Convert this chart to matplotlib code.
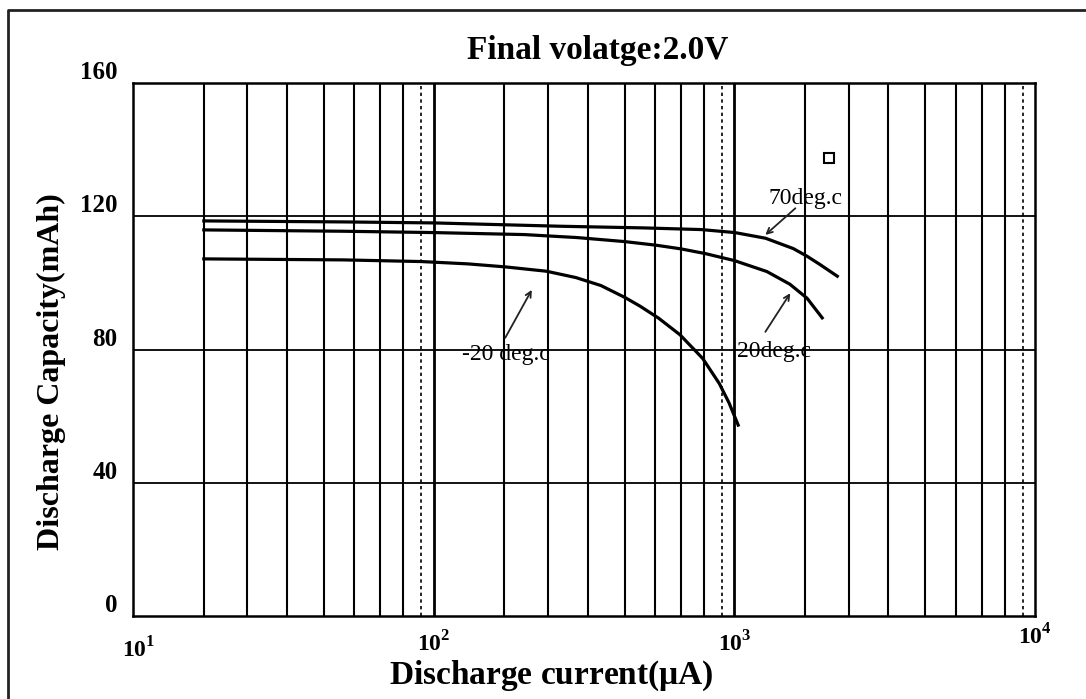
import numpy as np
import matplotlib.pyplot as plt
from matplotlib.lines import Line2D
from matplotlib.transforms import ScaledTranslation

plt.rcParams['font.family'] = ['Liberation Serif', 'DejaVu Serif']
plt.rcParams['mathtext.fontset'] = 'custom'
plt.rcParams['mathtext.rm'] = 'Liberation Serif:bold'
plt.rcParams['mathtext.bf'] = 'Liberation Serif:bold'

#### ========== Data ==========

# discharge current (uA) and capacity (mAh)
cur_70  = [17.2, 50, 100, 264, 500, 777, 1004, 1270, 1570, 1745, 1935, 2200]
cap_70  = [118.6, 118.3, 118.0, 117.0, 116.5, 116.0, 115.1, 113.4, 110.3, 108.0, 105.4, 102.0]

cur_20  = [17.2, 50, 100, 200, 300, 431, 550, 665, 800, 1000, 1283, 1530, 1745, 1960]
cap_20  = [115.9, 115.5, 115.1, 114.5, 113.6, 112.4, 111.3, 110.2, 108.8, 106.7, 103.4, 99.6, 95.4, 89.5]

cur_m20 = [17.2, 50, 91, 130, 173, 237, 297, 360, 433, 486, 560, 660, 785, 891, 960, 1030]
cap_m20 = [107.2, 106.9, 106.4, 105.7, 104.8, 103.5, 101.6, 99.2, 95.6, 93.0, 89.4, 84.4, 77.3, 69.8, 64.0, 57.3]

# vertical grid lines inside each decade (multiples of the decade start)
decades     = [10, 100, 1000]
grid_mult   = [1.72, 2.40, 3.25, 4.32, 5.44, 6.64, 7.92]
dashed_mult = 9.09

yticks = [0, 40, 80, 120, 160]
xticks = [10, 100, 1000, 10000]
xticklabels = [r'$10^{1}$', r'$10^{2}$', r'$10^{3}$', r'$10^{4}$']

#### ========== Plotting ==========

fig = plt.figure( figsize = ( 10.86, 6.99 ), dpi = 100 )
ax  = fig.add_axes( [ 133/1086, 83/699, 902/1086, 533/699 ] )

ax.set_xscale( 'log' )
ax.set_xlim( 10, 10000 )
ax.set_ylim( 0, 160 )

# grid
for d in decades:
    for m in grid_mult:
        ax.axvline( d * m, color = 'k', lw = 1.5, zorder = 1 )
    ax.axvline( d * dashed_mult, color = 'k', lw = 1.2, ls = ( 0, ( 2, 2 ) ), zorder = 1 )
for d in [100, 1000]:
    ax.axvline( d, color = 'k', lw = 2.0, zorder = 1 )
for y in [40, 80, 120]:
    ax.axhline( y, color = 'k', lw = 1.3, zorder = 1 )

# curves
ax.plot( cur_70,  cap_70,  'k-', lw = 2.3, zorder = 3, solid_joinstyle = 'round' )
ax.plot( cur_20,  cap_20,  'k-', lw = 2.3, zorder = 3, solid_joinstyle = 'round' )
ax.plot( cur_m20, cap_m20, 'k-', lw = 2.3, zorder = 3, solid_joinstyle = 'round' )

# annotations
kw = dict( zorder = 4,
           arrowprops = dict( arrowstyle = '->', color = '#222222', lw = 1.3,
                              shrinkA = 0, shrinkB = 0 ) )
ax.annotate( '', xy = ( 1268, 114.4 ), xytext = ( 1596, 122.4 ), **kw )
ax.annotate( '', xy = ( 1535, 96.9 ),  xytext = ( 1268, 85.3 ),  **kw )
ax.annotate( '', xy = ( 212, 97.9 ),   xytext = ( 173, 83.5 ),   **kw )
ax.text( 1722, 125.4, '70deg.c',   fontsize = 17, ha = 'center', va = 'center', zorder = 5 )
ax.text( 1358, 79.3,  '20deg.c',   fontsize = 17, ha = 'center', va = 'center', zorder = 5 )
ax.text( 174,  78.4,  '-20 deg.c', fontsize = 17, ha = 'center', va = 'center', zorder = 5 )

# little square
ax.plot( [2070], [137.5], marker = 's', ms = 7, mfc = 'white', mec = 'k', mew = 1.5, zorder = 5 )

for s in ax.spines.values():
    s.set_linewidth( 1.8 )

ax.set_yticks( yticks )
ax.set_yticklabels( [ str( y ) for y in yticks ], fontsize = 18, fontweight = 'bold' )
ax.set_xticks( xticks )
ax.set_xticklabels( xticklabels, fontsize = 17 )
ax.minorticks_off()
ax.tick_params( length = 0 )
ax.tick_params( axis = 'y', pad = 11 )
ax.tick_params( axis = 'x', pad = 11 )

for lab in ax.get_yticklabels():
    lab.set_transform( lab.get_transform() + ScaledTranslation( 0, 13/100, fig.dpi_scale_trans ) )
xoff = [ ( 6, -6 ), ( 0, 0 ), ( 0, 0 ), ( 0, 7 ) ]
for lab, ( dx, dy ) in zip( ax.get_xticklabels(), xoff ):
    lab.set_transform( lab.get_transform() + ScaledTranslation( dx/100, dy/100, fig.dpi_scale_trans ) )

fig.text( 598/1086, 1 - 50/699, 'Final volatge:2.0V', fontsize = 24, fontweight = 'bold',
          ha = 'center', va = 'center' )
ax.set_xlabel( r'Discharge current($\mathregular{\mu}$A)', fontsize = 24, fontweight = 'bold' )
ax.xaxis.set_label_coords( ( 551 - 133 ) / 902, ( 616 - 659 ) / 533 )
ax.set_ylabel( 'Discharge Capacity(mAh)', fontsize = 23, fontweight = 'bold' )
ax.yaxis.set_label_coords( ( 66 - 133 ) / 902, ( 616 - 372 ) / 533 )

# outer frame (open at right and bottom)
fig.add_artist( Line2D( [ 8/1086, 8/1086, 1.0 ], [ 0.0, 1 - 10/699, 1 - 10/699 ],
                        color = '#222222', lw = 2.0 ) )

plt.savefig( 'out.png', dpi = 100 )
plt.close()
